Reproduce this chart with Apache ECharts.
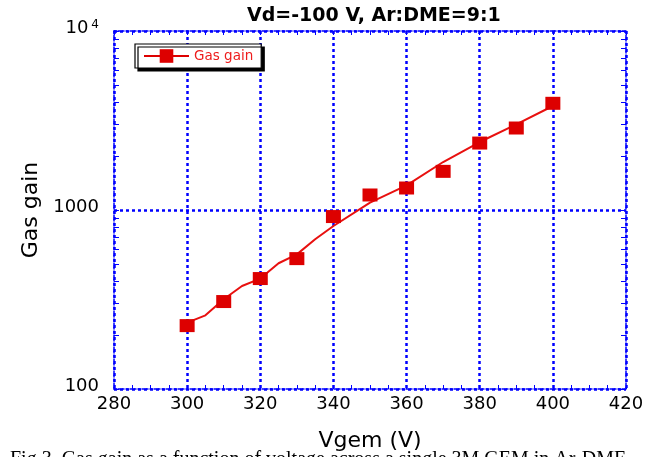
<!DOCTYPE html>
<html>
<head>
<meta charset="utf-8">
<script src="https://cdn.jsdelivr.net/npm/echarts@6/dist/echarts.min.js"></script>
<style>
html,body{margin:0;padding:0;background:#fff;}
#main{width:653px;height:457px;}
</style>
</head>
<body>
<div id="main"></div>
<script>
// measured points (square markers)
var vgem=[300,310,320,330,340,350,360,370,380,390,400];
var gain=[226,308,414,535,919,1213,1327,1644,2366,2871,3945];
// drawn curve through the points
var fitV=[300,305,310,315,320,325,330,335,340,350,360,370,380,390,400];
var fitGain=[235,258,317,376,414,504,565,686,814,1100,1374,1854,2398,3011,3811];
// y ticks (log decades + minor)
var yTicks=[100,200,300,400,500,600,700,800,900,1000,2000,3000,4000,5000,6000,7000,8000,9000,10000];
var titleText='Vd=-100 V, Ar:DME=9:1';
var caption='Fig.3. Gas gain as a function of voltage across a single 3M GEM in Ar-DME';

var blue='#0000ff';
var red='#dd0000';
var myChart=echarts.init(document.getElementById('main'));

var frameLine={show:true,onZero:false,lineStyle:{color:blue,width:1.5,type:[2,2]}};
var gridLine={show:true,lineStyle:{color:blue,width:2.5,type:[3,3]}};
var tickStyle={color:blue,width:1};

var pts=[];
for(var i=0;i<vgem.length;i++){pts.push([vgem[i],gain[i]]);}
var fit=[];
for(var j=0;j<fitV.length;j++){fit.push([fitV[j],fitGain[j]]);}

var option={
    animation:false,
    backgroundColor:'#fff',
    title:{
        text:titleText,
        left:247,
        top:7,
        padding:0,
        textStyle:{fontSize:19,fontWeight:'bold',color:'#000',fontFamily:'DejaVu Sans'}
    },
    grid:{left:114,right:27,top:31,bottom:68},
    legend:{
        left:135,top:44,
        itemWidth:45,itemHeight:17,itemGap:5,
        padding:[5,8,5,8],
        backgroundColor:'#fff',borderColor:'#000',borderWidth:1.2,
        shadowColor:'#000',shadowOffsetX:3,shadowOffsetY:3,shadowBlur:0,
        selectedMode:false,
        textStyle:{color:'#ee1c1c',fontSize:13.5,fontFamily:'DejaVu Sans'},
        data:[{name:'Gas gain',lineStyle:{color:red,width:2,opacity:1}}]
    },
    xAxis:[
        {
            type:'value',position:'bottom',min:280,max:420,interval:20,
            name:'Vgem (V)',nameLocation:'middle',nameGap:41,
            nameTextStyle:{fontSize:22,color:'#000',fontFamily:'DejaVu Sans'},
            axisLine:frameLine,
            axisTick:{show:true,inside:true,length:4,lineStyle:tickStyle},
            minorTick:{show:true,splitNumber:4,length:4,lineStyle:tickStyle},
            axisLabel:{fontSize:18,color:'#000',margin:6,fontFamily:'DejaVu Sans'},
            splitLine:gridLine
        },
        {
            type:'value',position:'top',min:280,max:420,interval:20,
            axisLine:frameLine,
            axisTick:{show:true,inside:true,length:4,lineStyle:tickStyle},
            minorTick:{show:true,splitNumber:4,length:4,lineStyle:tickStyle},
            axisLabel:{show:false},
            splitLine:{show:false}
        }
    ],
    yAxis:[
        {
            type:'log',position:'left',min:100,max:10000,logBase:10,
            name:'Gas gain',nameLocation:'middle',nameGap:70,
            nameTextStyle:{fontSize:22,color:'#000',fontFamily:'DejaVu Sans'},
            axisLine:frameLine,
            axisTick:{show:true,inside:true,length:5,customValues:yTicks,lineStyle:tickStyle},
            axisLabel:{
                margin:15,color:'#000',fontSize:18,fontFamily:'DejaVu Sans',
                padding:[0,0,5,0],
                formatter:function(v){
                    if(v>=10000){return '{b|10}{s|4}';}
                    return '{b|'+v+'}';
                },
                rich:{
                    b:{fontSize:18,fontFamily:'DejaVu Sans',color:'#000'},
                    s:{fontSize:12,fontFamily:'DejaVu Sans',color:'#000',verticalAlign:'top',padding:[0,0,8,3]}
                }
            },
            splitLine:{show:false}
        },
        {
            type:'log',position:'right',min:100,max:10000,logBase:10,
            axisLine:frameLine,
            axisTick:{show:true,inside:true,length:5,customValues:yTicks,lineStyle:tickStyle},
            axisLabel:{show:false},
            splitLine:{show:false}
        },
        {
            // decade grid lines only
            type:'log',position:'left',min:100,max:10000,logBase:10,
            axisLine:{show:false},axisTick:{show:false},axisLabel:{show:false},
            splitLine:gridLine
        }
    ],
    graphic:[
        {
            type:'text',left:10,top:450,z:-10,silent:true,
            style:{text:caption,fill:'#000',font:'20px "Liberation Serif"'}
        }
    ],
    series:[
        {
            name:'fit',type:'line',data:fit,
            symbol:'none',showSymbol:false,
            lineStyle:{color:'#e8100f',width:2},
            z:2
        },
        {
            name:'Gas gain',type:'line',data:pts,
            symbol:'rect',symbolSize:[15,13],
            itemStyle:{color:red},
            lineStyle:{width:0,opacity:0},
            z:3
        }
    ]
};
myChart.setOption(option);
</script>
</body>
</html>
